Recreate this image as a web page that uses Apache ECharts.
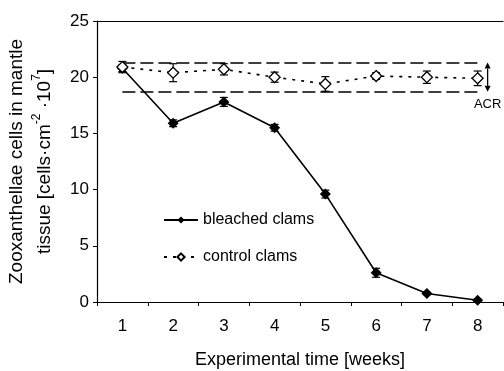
<!DOCTYPE html>
<html>
<head>
<meta charset="utf-8">
<script src="https://cdn.jsdelivr.net/npm/echarts@6/dist/echarts.min.js"></script>
<style>
  html, body { margin: 0; padding: 0; background: #fff; }
  #chart { width: 504px; height: 371px; }
</style>
</head>
<body>
<div id="chart"></div>
<script>
const weeks = ['1', '2', '3', '4', '5', '6', '7', '8']
const bleached = [20.8, 15.9, 17.8, 15.5, 9.6, 2.6, 0.75, 0.15]
const bleachedErr = [0.3, 0.3, 0.4, 0.3, 0.35, 0.4, 0.1, 0.1]
const control = [20.9, 20.4, 20.7, 20.0, 19.4, 20.1, 20.0, 19.9]
const controlErr = [0.5, 0.8, 0.5, 0.45, 0.65, 0.3, 0.55, 0.65]
const acrRange = [18.7, 21.3]
const yTicks = [0, 5, 10, 15, 20, 25]

const FONT = 'Liberation Sans, Arial, sans-serif'

function errorBars(values, errs) {
    return {
        type: 'custom',
        silent: true,
        z: 3,
        data: values.map((v, i) => [i, v - errs[i], v + errs[i]]),
        renderItem(params, api) {
            const lo = api.coord([api.value(0), api.value(1)])
            const hi = api.coord([api.value(0), api.value(2)])
            const w = 4
            const st = { stroke: '#000', lineWidth: 1.2 }
            return {
                type: 'group',
                children: [
                    { type: 'line', shape: { x1: lo[0], y1: lo[1], x2: hi[0], y2: hi[1] }, style: st },
                    { type: 'line', shape: { x1: lo[0] - w, y1: lo[1], x2: lo[0] + w, y2: lo[1] }, style: st },
                    { type: 'line', shape: { x1: hi[0] - w, y1: hi[1], x2: hi[0] + w, y2: hi[1] }, style: st }
                ]
            }
        }
    }
}

const chart = echarts.init(document.getElementById('chart'))
chart.setOption({
    animation: false,
    textStyle: { fontFamily: FONT, color: '#000' },
    grid: { left: 97, right: 1, top: 21, bottom: 69, outerBoundsMode: 'none', containLabel: false },
    legend: {
        orient: 'vertical',
        left: 158,
        top: 207,
        itemWidth: 34,
        itemHeight: 9,
        itemGap: 21,
        textStyle: { fontSize: 16, fontFamily: FONT, color: '#000' },
        data: [
            { name: 'bleached clams' },
            { name: 'control clams' }
        ]
    },
    xAxis: [{
        type: 'category',
        data: weeks,
        boundaryGap: true,
        name: 'Experimental time [weeks]',
        nameLocation: 'middle',
        nameGap: 49,
        nameTextStyle: { fontSize: 18, fontFamily: FONT, color: '#000' },
        axisLine: { lineStyle: { color: '#000', width: 1.2 } },
        axisTick: { show: true, length: 4, lineStyle: { color: '#000' } },
        axisLabel: { fontSize: 17, margin: 16, color: '#000', fontFamily: FONT }
    }, {
        type: 'category',
        data: weeks,
        position: 'top',
        axisLine: { lineStyle: { color: '#000', width: 1.2 } },
        axisTick: { show: false },
        axisLabel: { show: false }
    }],
    yAxis: {
        type: 'value',
        min: yTicks[0],
        max: yTicks[yTicks.length - 1],
        interval: 5,
        name: '{a|Zooxanthellae cells in mantle}\n{a|tissue [cells·cm}{s|-2}{a| ·10}{s|7}{a|]}',
        nameLocation: 'middle',
        nameRotate: 90,
        nameGap: 38,
        nameTextStyle: {
            rich: {
                a: { fontSize: 19, fontFamily: FONT, color: '#000', lineHeight: 28 },
                s: { fontSize: 12, fontFamily: FONT, color: '#000', lineHeight: 28, verticalAlign: 'top' }
            }
        },
        axisLine: { show: true, lineStyle: { color: '#000', width: 1.2 } },
        axisTick: { show: true, length: 4, lineStyle: { color: '#000' } },
        splitLine: { show: false },
        axisLabel: { fontSize: 17, margin: 8, color: '#000', fontFamily: FONT }
    },
    series: [
        {
            name: 'bleached clams',
            type: 'line',
            data: bleached,
            symbol: 'diamond',
            symbolSize: 11,
            z: 4,
            itemStyle: { color: '#000' },
            lineStyle: { color: '#000', width: 1.6 }
        },
        {
            name: 'control clams',
            type: 'line',
            data: control,
            symbol: 'diamond',
            symbolSize: 11,
            z: 5,
            itemStyle: { color: '#fff', borderColor: '#000', borderWidth: 1.3 },
            lineStyle: { color: '#000', width: 1.6, type: [3, 6] },
            markLine: {
                silent: true,
                symbol: 'none',
                label: { show: false },
                lineStyle: { color: '#000', width: 1.6, type: [13, 5] },
                data: acrRange.map(v => [{ coord: [0, v] }, { coord: [7, v] }])
            }
        },
        errorBars(bleached, bleachedErr),
        errorBars(control, controlErr),
        {
            type: 'custom',
            silent: true,
            data: [[7, acrRange[0], acrRange[1]]],
            renderItem(params, api) {
                const lo = api.coord([api.value(0), api.value(1)])
                const hi = api.coord([api.value(0), api.value(2)])
                const x = lo[0] + 10
                const h = 6
                return {
                    type: 'group',
                    children: [
                        { type: 'line', shape: { x1: x, y1: lo[1] - h, x2: x, y2: hi[1] + h }, style: { stroke: '#000', lineWidth: 1.3 } },
                        { type: 'polygon', shape: { points: [[x - 3, hi[1] + h], [x + 3, hi[1] + h], [x, hi[1]]] }, style: { fill: '#000' } },
                        { type: 'polygon', shape: { points: [[x - 3, lo[1] - h], [x + 3, lo[1] - h], [x, lo[1]]] }, style: { fill: '#000' } },
                        { type: 'text', x: x, y: lo[1] + 13, style: { text: 'ACR', fontSize: 13, fontFamily: FONT, fill: '#000', align: 'center', verticalAlign: 'middle' } }
                    ]
                }
            }
        }
    ]
})
</script>
</body>
</html>
